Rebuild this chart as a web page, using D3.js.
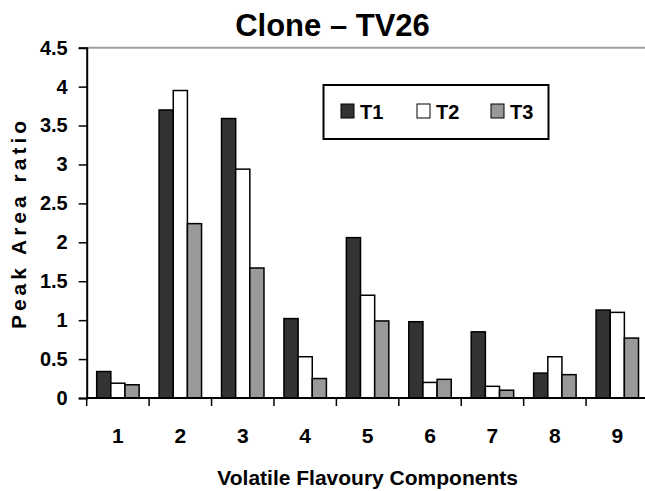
<!DOCTYPE html>
<html>
<head>
<meta charset="utf-8">
<script src="https://cdn.jsdelivr.net/npm/d3@7"></script>
<style>
  body { margin: 0; background: #fff; }
  text { font-family: "Liberation Sans", Arial, sans-serif; font-weight: bold; }
</style>
</head>
<body>
<div id="chart"></div>
<script>
// data
var components = ["1", "2", "3", "4", "5", "6", "7", "8", "9"];
var seriesNames = ["T1", "T2", "T3"];
var t1 = [0.34, 3.70, 3.59, 1.02, 2.06, 0.98, 0.85, 0.32, 1.13];
var t2 = [0.19, 3.95, 2.94, 0.53, 1.32, 0.20, 0.15, 0.53, 1.10];
var t3 = [0.17, 2.24, 1.67, 0.25, 0.99, 0.24, 0.10, 0.30, 0.77];
var yTicks = [0, 0.5, 1, 1.5, 2, 2.5, 3, 3.5, 4, 4.5];
var colors = ["#333333", "#ffffff", "#999999"];

var W = 645, H = 491;
var plotLeft = 86.7, plotRight = 648.5, plotTop = 47.7, plotBottom = 398;

var svg = d3.select("#chart").append("svg")
    .attr("width", W)
    .attr("height", H);

var values = [t1, t2, t3];
var data = components.map(function (c, i) {
    return { comp: c, vals: seriesNames.map(function (s, j) { return { name: s, value: values[j][i] }; }) };
});

// scales
var x0 = d3.scaleBand().domain(components).range([plotLeft, plotRight]).padding(0);
var step = x0.bandwidth();
var groupW = step * 0.68;
var x1 = d3.scaleBand().domain(seriesNames)
    .range([(step - groupW) / 2, (step + groupW) / 2]).padding(0);
var y = d3.scaleLinear().domain([0, 4.5]).range([plotBottom, plotTop]);

// top grey line
svg.append("line")
    .attr("x1", plotLeft).attr("x2", W)
    .attr("y1", y(4.5)).attr("y2", y(4.5))
    .attr("stroke", "#a0a0a0").attr("stroke-width", 2);

// bars
var groups = svg.append("g").selectAll("g")
    .data(data)
    .enter().append("g")
    .attr("transform", function (d) { return "translate(" + x0(d.comp) + ",0)"; });
groups.selectAll("rect")
    .data(function (d) { return d.vals; })
    .enter().append("rect")
    .attr("x", function (d) { return x1(d.name); })
    .attr("y", function (d) { return y(d.value); })
    .attr("width", x1.bandwidth())
    .attr("height", function (d) { return y(0) - y(d.value); })
    .attr("fill", function (d, i) { return colors[i]; })
    .attr("stroke", "#000")
    .attr("stroke-width", 1.5);

// y axis
var yAxis = svg.append("g")
    .attr("transform", "translate(" + plotLeft + ",0)")
    .call(d3.axisLeft(y).tickValues(yTicks).tickSize(8).tickPadding(11)
        .tickFormat(function (d) { return d; }));
yAxis.select(".domain").attr("stroke", "#000").attr("stroke-width", 2);
yAxis.selectAll(".tick line").attr("stroke", "#000").attr("stroke-width", 1.5);
yAxis.selectAll(".tick text").attr("font-size", 20).attr("fill", "#000")
    .attr("font-family", "Liberation Sans, Arial, sans-serif").attr("font-weight", "bold");

// x axis
var xAxis = svg.append("g")
    .attr("transform", "translate(0," + plotBottom + ")")
    .call(d3.axisBottom(x0).tickSize(0).tickPadding(30).tickSizeOuter(0));
xAxis.select(".domain").remove();
xAxis.selectAll(".tick text").attr("font-size", 21).attr("fill", "#000")
    .attr("font-family", "Liberation Sans, Arial, sans-serif").attr("font-weight", "bold");
svg.append("line")
    .attr("x1", plotLeft).attr("x2", W)
    .attr("y1", plotBottom).attr("y2", plotBottom)
    .attr("stroke", "#000").attr("stroke-width", 2);
// ticks between categories
var bounds = components.map(function (c) { return x0(c); });
svg.append("g").selectAll("line")
    .data(bounds)
    .enter().append("line")
    .attr("x1", function (d) { return d; }).attr("x2", function (d) { return d; })
    .attr("y1", plotBottom).attr("y2", plotBottom + 8)
    .attr("stroke", "#000").attr("stroke-width", 1.5);

// titles
svg.append("text")
    .attr("x", 332.5).attr("y", 36)
    .attr("text-anchor", "middle")
    .attr("font-size", 31)
    .text("Clone \u2013 TV26");

svg.append("text")
    .attr("x", (plotLeft + plotRight) / 2).attr("y", 485)
    .attr("text-anchor", "middle")
    .attr("font-size", 21)
    .text("Volatile Flavoury Components");

svg.append("text")
    .attr("transform", "translate(26," + 223 + ") rotate(-90)")
    .attr("text-anchor", "middle")
    .attr("font-size", 21)
    .style("letter-spacing", "4px")
    .text("Peak Area ratio");

// legend
var legend = svg.append("g");
legend.append("rect")
    .attr("x", 323.5).attr("y", 85)
    .attr("width", 225).attr("height", 54)
    .attr("fill", "#fff").attr("stroke", "#000").attr("stroke-width", 2);
var legX = [341, 417, 491];
var item = legend.selectAll("g.item")
    .data(seriesNames)
    .enter().append("g").attr("class", "item")
    .attr("transform", function (d, i) { return "translate(" + legX[i] + ",0)"; });
item.append("rect")
    .attr("x", 0).attr("y", 104)
    .attr("width", 13).attr("height", 14)
    .attr("fill", function (d, i) { return colors[i]; })
    .attr("stroke", "#000").attr("stroke-width", 1);
item.append("text")
    .attr("x", 19).attr("y", 119)
    .attr("font-size", 20)
    .text(function (d) { return d; });
</script>
</body>
</html>
